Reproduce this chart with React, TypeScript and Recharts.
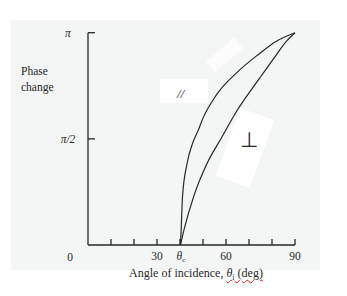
import React from 'react';
import { LineChart, Line, XAxis, YAxis } from 'recharts';

// angle of incidence (deg) ticks and y ticks (fraction of pi)
const angleTicks = [0, 10, 20, 30, 40, 50, 60, 70, 80, 90];
const angleLabels: Record<number, string> = { 30: '30', 60: '60', 90: '90' };
const criticalAngle = 40;
const phaseTicks = [0, 0.5, 1];
const phaseLabels = ['0', 'π/2', 'π'];

// phase change, in units of pi
const parallelCurve = [
  { angle: 40.2, phase: 0 },
  { angle: 40.5, phase: 0.07 },
  { angle: 41.1, phase: 0.23 },
  { angle: 43.1, phase: 0.385 },
  { angle: 45.5, phase: 0.48 },
  { angle: 47.9, phase: 0.54 },
  { angle: 50.1, phase: 0.6 },
  { angle: 55.9, phase: 0.708 },
  { angle: 65.3, phase: 0.818 },
  { angle: 73.9, phase: 0.896 },
  { angle: 81.9, phase: 0.96 },
  { angle: 90, phase: 1 },
];

const perpendicularCurve = [
  { angle: 40.2, phase: 0 },
  { angle: 41.7, phase: 0.07 },
  { angle: 46, phase: 0.23 },
  { angle: 51.8, phase: 0.385 },
  { angle: 58, phase: 0.504 },
  { angle: 64.6, phase: 0.63 },
  { angle: 74.7, phase: 0.787 },
  { angle: 81.9, phase: 0.896 },
  { angle: 86.3, phase: 0.96 },
  { angle: 90, phase: 1 },
];

const INK = '#262626';
const SERIF = '"Liberation Serif", "DejaVu Serif", serif';

function PhaseTick(props: any) {
  const { x, y, payload, index } = props;
  const label = phaseLabels[index];
  if (payload.value === 0) {
    return (
      <text x={x - 18} y={y + 16} textAnchor="middle" fontSize={11.5} fontFamily={SERIF} fill={INK}>
        {label}
      </text>
    );
  }
  return (
    <g>
      <line x1={x} x2={x + 7} y1={y} y2={y} stroke={INK} strokeWidth={1.3} />
      <text x={x - 20} y={y + 4} textAnchor="middle" fontSize={11.5} fontFamily={SERIF} fontStyle="italic" fill={INK}>
        {label}
      </text>
    </g>
  );
}

function AngleTick(props: any) {
  const { x, y, payload } = props;
  const v = payload.value;
  return (
    <g>
      {v > 0 && <line x1={x} x2={x} y1={y} y2={y - 6} stroke={INK} strokeWidth={1.3} />}
      {angleLabels[v] && (
        <text x={x} y={y + 15} textAnchor="middle" fontSize={11.5} fontFamily={SERIF} fill={INK}>
          {angleLabels[v]}
        </text>
      )}
      {v === criticalAngle && (
        <text x={x + 1} y={y + 15} textAnchor="middle" fontSize={11.5} fontFamily={SERIF} fill={INK}>
          <tspan fontStyle="italic">θ</tspan>
          <tspan fontSize={7} dy={2}>c</tspan>
        </text>
      )}
    </g>
  );
}

const txt: React.CSSProperties = {
  position: 'absolute',
  fontFamily: SERIF,
  color: INK,
  whiteSpace: 'nowrap',
  lineHeight: 1,
};

export default function App() {
  return (
    <div style={{ position: 'absolute', left: 0, top: 0, width: 347, height: 296, background: '#fff', overflow: 'hidden' }}>
      {/* scanned page background and white patches */}
      <div style={{ position: 'absolute', left: 11, top: 20, width: 309, height: 250, background: '#f4f6f5' }} />
      <div style={{ position: 'absolute', left: 160, top: 79, width: 48, height: 24, background: '#fff' }} />
      <div style={{ position: 'absolute', left: 205.5, top: 47.5, width: 37, height: 14, background: '#fbfcfb', transform: 'rotate(-39.5deg)' }} />
      <div style={{ position: 'absolute', left: 227, top: 112, width: 36, height: 72, background: '#fff', transform: 'rotate(20deg)' }} />

      <div style={{ position: 'absolute', left: 0, top: 0 }}>
        <LineChart width={347} height={296} data={parallelCurve} margin={{ top: 32.7, right: 52, left: 0, bottom: 0 }}>
          <XAxis
            dataKey="angle"
            type="number"
            domain={[0, 90]}
            ticks={angleTicks}
            height={51}
            tickSize={0}
            tickMargin={0}
            tickLine={false}
            axisLine={{ stroke: INK, strokeWidth: 1.3 }}
            tick={<AngleTick />}
            interval={0}
          />
          <YAxis
            type="number"
            domain={[0, 1]}
            ticks={phaseTicks}
            width={88}
            tickSize={0}
            tickMargin={0}
            tickLine={false}
            axisLine={{ stroke: INK, strokeWidth: 1.3 }}
            tick={<PhaseTick />}
            interval={0}
          />
          <Line data={parallelCurve} dataKey="phase" type="monotone" stroke={INK} strokeWidth={1.2} dot={false} activeDot={false} isAnimationActive={false} />
          <Line data={perpendicularCurve} dataKey="phase" type="monotone" stroke={INK} strokeWidth={1.2} dot={false} activeDot={false} isAnimationActive={false} />
        </LineChart>
      </div>

      <div style={{ ...txt, left: 21, top: 66, fontSize: 11.5 }}>Phase</div>
      <div style={{ ...txt, left: 21, top: 82, fontSize: 11.5 }}>change</div>
      <div style={{ ...txt, left: 177, top: 87, fontSize: 13, fontStyle: 'italic' }}>//</div>
      <div style={{ ...txt, left: 240, top: 130, fontSize: 21, fontFamily: '"DejaVu Sans", sans-serif' }}>⊥</div>
      <div style={{ ...txt, left: 196, top: 267, fontSize: 12, transform: 'translateX(-50%)' }}>
        Angle of incidence,{' '}
        <span style={{ textDecoration: 'underline wavy #d02020', textDecorationThickness: 1, textUnderlineOffset: 2 }}>
          <i>θ</i>
          <sub style={{ fontSize: 8 }}>i</sub> (deg)
        </span>
      </div>
    </div>
  );
}
